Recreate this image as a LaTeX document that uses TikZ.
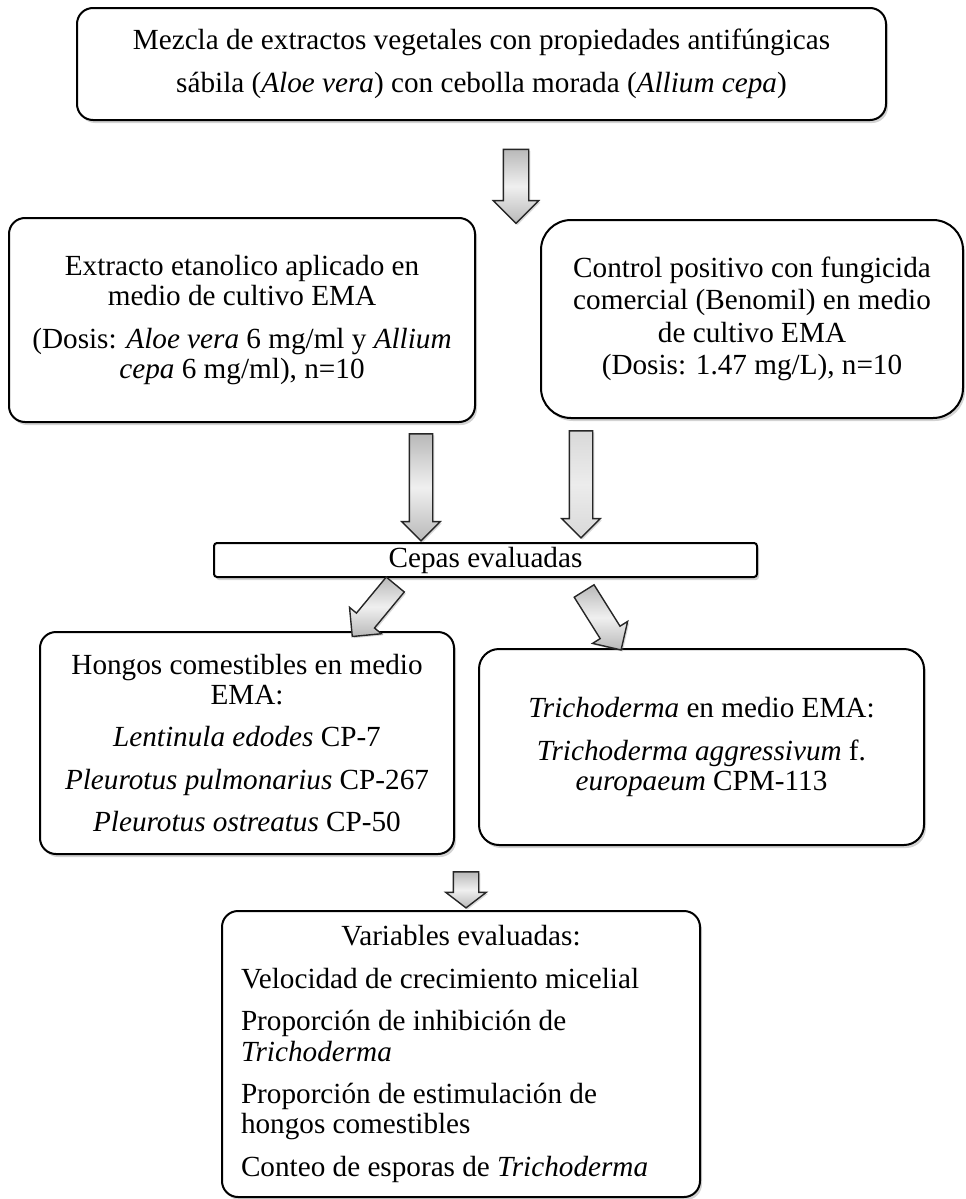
\documentclass[tikz,border=0pt]{standalone}
\usepackage{fontspec}
\setmainfont{Liberation Serif}
\usetikzlibrary{shapes.arrows,shadows,calc}
\newcommand\gap{6pt}
\newcommand\flecha[4][]{%
  \path let \p1=($(#4)-(#3)$), \n1={veclen(\x1,\y1)}, \n2={atan2(\y1,\x1)} in
    node[flecha, minimum height=\n1, rotate=\n2, #1] (#2) at ($(#3)!0.5!(#4)$) {};}

\tikzset{
  caja/.style={draw=black, line width=1pt, rounded corners=8pt, fill=white,
    align=center, inner sep=0pt, font=\fontsize{14.6}{15.2}\selectfont,
    drop shadow={shadow xshift=1pt, shadow yshift=-1.5pt, opacity=0.35}},
  flecha/.style={single arrow, draw=black!85, line width=0.7pt,
    inner xsep=0pt, inner ysep=5.5pt, single arrow head extend=4.5pt,
    top color=gray!55, bottom color=gray!55, middle color=gray!12,
    drop shadow={shadow xshift=0.8pt, shadow yshift=-0.8pt, opacity=0.3}}
}

\begin{document}
\begin{tikzpicture}[x=0.5pt, y=-0.5pt]
  \useasboundingbox (0,0) rectangle (965,1199);

  % boxes
  \node[caja, minimum width=404.5pt, minimum height=56pt] (mezcla) at (481.5,64)
    {Mezcla de extractos vegetales con propiedades antifúngicas\\[\gap]
     sábila (\textit{Aloe vera}) con cebolla morada (\textit{Allium cepa})};
  \node[caja, minimum width=233pt, minimum height=102pt] (extracto) at (242,320)
    {Extracto etanolico aplicado en\\medio de cultivo EMA\\[\gap]
     (Dosis: \textit{Aloe vera} 6 mg/ml y \textit{Allium}\\
     \textit{cepa} 6 mg/ml), n=10};
  \node[caja, rounded corners=15pt, minimum width=211pt, minimum height=99pt] (control) at (752,319)
    {Control positivo con fungicida\\[1pt]comercial (Benomil) en medio\\[1pt]
     de cultivo EMA\\[1pt](Dosis: 1.47 mg/L), n=10};
  \node[caja, rounded corners=1.5pt, minimum width=271.5pt, minimum height=17pt] (cepas) at (485.5,560)
    {Cepas evaluadas};
  \node[caja, minimum width=207pt, minimum height=111pt] (hongos) at (247,743)
    {Hongos comestibles en medio\\EMA:\\[\gap]
     \textit{Lentinula edodes} CP-7\\[\gap]
     \textit{Pleurotus pulmonarius} CP-267\\[\gap]
     \textit{Pleurotus ostreatus} CP-50};
  \node[caja, rounded corners=10pt, minimum width=222.5pt, minimum height=98pt] (tricho) at (701.5,747)
    {\textit{Trichoderma} en medio EMA:\\[\gap]
     \textit{Trichoderma aggressivum} f.\\\textit{europaeum} CPM-113};
  \node[caja, minimum width=239pt, minimum height=143pt, text width=220pt, align=flush left] (variables) at (461,1054)
    {\makebox[\hsize][c]{Variables evaluadas:}\\[\gap]
     Velocidad de crecimiento micelial\\[\gap]
     Proporción de inhibición de\\\textit{Trichoderma}\\[\gap]
     Proporción de estimulación de\\hongos comestibles\\[\gap]
     Conteo de esporas de \textit{Trichoderma}};

  % arrow ends
  \coordinate (f1a) at (516,143);  \coordinate (f1b) at (516,217);
  \coordinate (f2a) at (421,428);  \coordinate (f2b) at (421,535);
  \coordinate (f3a) at (581,425);  \coordinate (f3b) at (581,532);
  \coordinate (f4a) at (399,580);  \coordinate (f4b) at (356,632);
  \coordinate (f5a) at (581,586);  \coordinate (f5b) at (618,645);
  \coordinate (f6a) at (466,867);  \coordinate (f6b) at (466,903);

  % block arrows
  \flecha[inner ysep=6pt, single arrow head extend=5pt]{flecha1}{f1a}{f1b}
  \flecha[single arrow head extend=3.75pt]{flecha2}{f2a}{f2b}
  \flecha[single arrow head extend=3.75pt, top color=gray!30, bottom color=gray!30, middle color=gray!15]{flecha3}{f3a}{f3b}
  \flecha{flecha4}{f4a}{f4b}
  \flecha{flecha5}{f5a}{f5b}
  \flecha[inner ysep=6pt, single arrow head extend=3.75pt, single arrow tip angle=105]{flecha6}{f6a}{f6b}
\end{tikzpicture}
\end{document}
